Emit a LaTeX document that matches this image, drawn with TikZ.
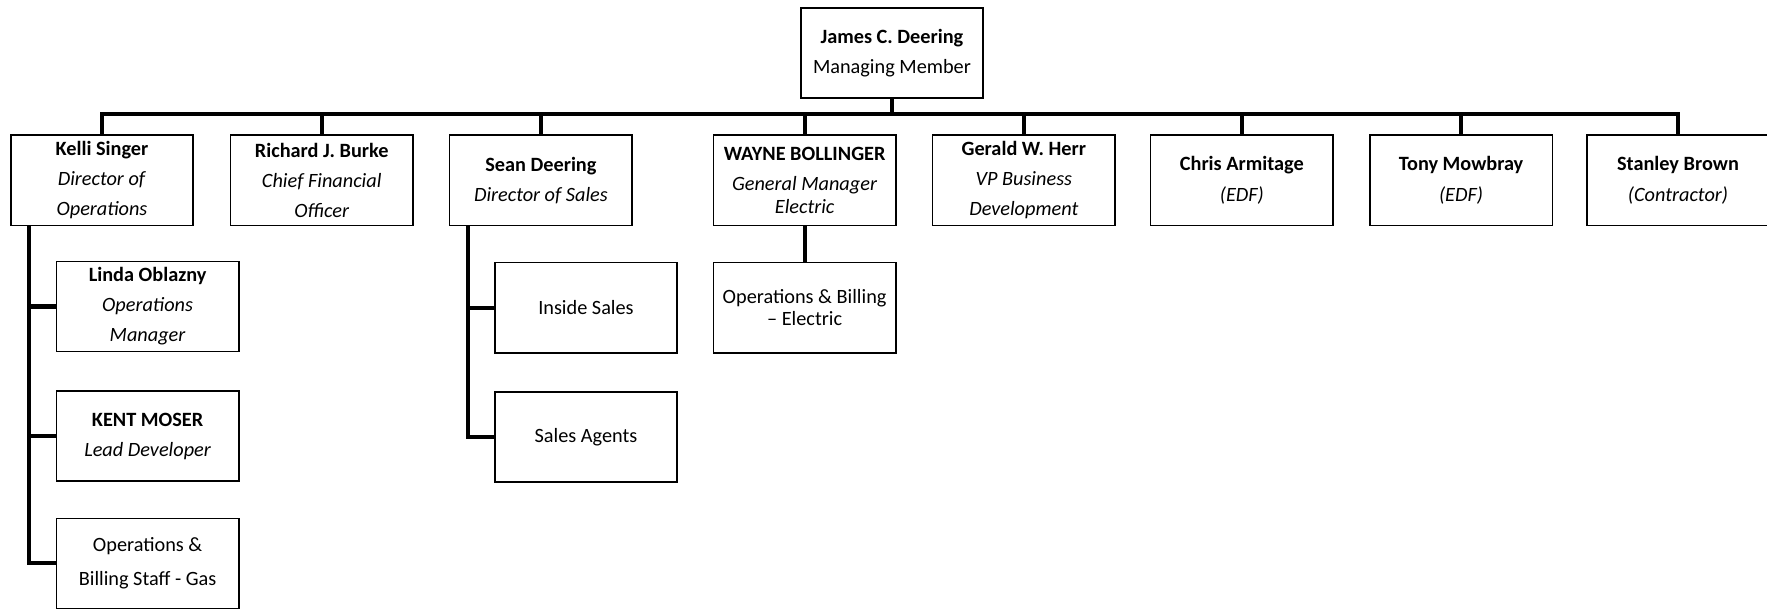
\documentclass[tikz,border=0pt]{standalone}
\usepackage{fontspec}
\setmainfont{Carlito}
\tikzset{
  box/.style={draw,line width=1.1pt,minimum width=121.5pt,minimum height=60pt,inner sep=0pt,align=center,font=\fontsize{13.5}{20}\selectfont},
  link/.style={line width=2.7pt}
}
\begin{document}
\begin{tikzpicture}[x=0.75pt,y=-0.75pt]
		\useasboundingbox (0,0) rectangle (1568,541);
		\node[box] (jd) at (791.5,47) {\textbf{James C. Deering}\\Managing Member};
		\node[box] (ks) at (90.5,160) {\textbf{Kelli Singer}\\\textit{Director of}\\\textit{Operations}};
		\node[box] (rb) at (285.5,160) {\textbf{Richard J. Burke}\\\textit{Chief Financial}\\\textit{Officer}};
		\node[box] (sd) at (480,160) {\textbf{Sean Deering}\\\textit{Director of Sales}};
		\node[box] (wb) at (714,160) {\textbf{WAYNE BOLLINGER}\\\textit{General Manager}\\[-5pt]\textit{Electric}};
		\node[box] (gh) at (908.5,160) {\textbf{Gerald W. Herr}\\\textit{VP Business}\\\textit{Development}};
		\node[box] (ca) at (1102,160) {\textbf{Chris Armitage}\\\textit{(EDF)}};
		\node[box] (tm) at (1296.5,160) {\textbf{Tony Mowbray}\\\textit{(EDF)}};
		\node[box] (sb) at (1489,160) {\textbf{Stanley Brown}\\\textit{(Contractor)}};
		\node[box] (lo) at (131,272) {\textbf{Linda Oblazny}\\\textit{Operations}\\\textit{Manager}};
		\node[box] (km) at (131,387) {\textbf{KENT MOSER}\\\textit{Lead Developer}};
		\node[box] (ob) at (131,500) {Operations \&\\[2.5pt]Billing Staff - Gas};
		\node[box] (is) at (520,273) {Inside Sales};
		\node[box] (sa) at (520,388) {Sales Agents};
		\node[box] (oe) at (714,273) {Operations \& Billing\\[-5pt]-- Electric};
		% top level
		\coordinate (bar) at (791.5,101);
		\draw[link] (jd.south) -- (bar);
		\foreach \n in {ks,rb,sd,wb,gh,ca,tm,sb}
			\draw[link] (bar) -| (\n.north);
		% second level
		\foreach \n in {lo,km,ob}
			\draw[link] (ks.south west) ++(17,0) |- (\n.west);
		\foreach \n in {is,sa}
			\draw[link] (sd.south west) ++(17,0) |- (\n.west);
		\draw[link] (wb.south) -- (oe.north);
\end{tikzpicture}
\end{document}
